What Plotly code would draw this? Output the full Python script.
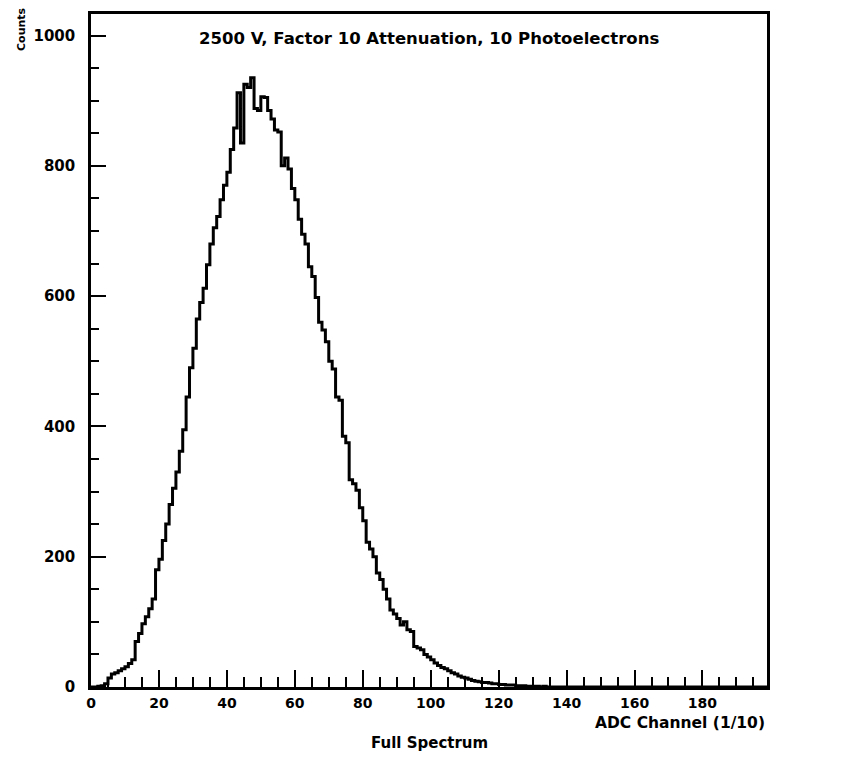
import plotly.graph_objects as go

# Histogram: 200 bins of width 1 (ADC channel / 10), counts
bin_edges_low = list(range(0, 200))
counts = [
    0, 0, 1, 2, 5, 14, 20, 22, 25, 28,
    31, 36, 42, 70, 82, 97, 108, 120, 135, 180,
    196, 225, 250, 280, 305, 330, 362, 395, 445, 490,
    520, 565, 590, 612, 648, 680, 705, 722, 748, 770,
    790, 825, 858, 912, 835, 925, 920, 935, 888, 885,
    906, 905, 885, 872, 855, 852, 800, 812, 795, 765,
    748, 718, 695, 680, 645, 630, 598, 560, 548, 530,
    500, 488, 445, 440, 385, 375, 318, 312, 302, 275,
    255, 222, 212, 200, 175, 165, 150, 135, 118, 112,
    105, 95, 100, 88, 85, 62, 60, 57, 50, 46,
    42, 37, 33, 30, 28, 25, 22, 20, 17, 15,
    14, 12, 10, 9, 8, 7, 7, 6, 5, 5,
    4, 4, 3, 3, 3, 2, 2, 2, 1, 1,
    1, 1, 0, 1, 0, 0, 0, 0, 0, 0,
] + [0] * 60

x_ticks = [0, 20, 40, 60, 80, 100, 120, 140, 160, 180]
y_ticks = [0, 200, 400, 600, 800, 1000]

title_text = "2500 V, Factor 10 Attenuation, 10 Photoelectrons"
x_title = "ADC Channel (1/10)"
sub_title = "Full Spectrum"
y_title = "Counts"

FONT = "DejaVu Sans"

xs = bin_edges_low + [bin_edges_low[-1] + 1]
ys = counts + [counts[-1]]

fig = go.Figure()
fig.add_trace(go.Scatter(
    x=xs, y=ys, mode="lines",
    line=dict(color="black", width=3, shape="hv"),
    hoverinfo="skip", showlegend=False,
))

axis_common = dict(
    showgrid=False, zeroline=False,
    showline=True, linecolor="black", linewidth=2.5, mirror=True,
    ticks="inside", tickcolor="black", tickwidth=2,
)

fig.update_xaxes(
    range=[0, 199], tickvals=x_ticks, ticklen=17,
    minor=dict(dtick=5, tick0=0, ticks="inside", ticklen=10, tickwidth=2, tickcolor="black"),
    ticklabelstandoff=1,
    tickfont=dict(family=FONT, size=14, color="black", weight="bold"),
    **axis_common,
)
fig.update_yaxes(
    range=[0, 1033], tickvals=y_ticks, ticklen=15,
    minor=dict(dtick=50, tick0=0, ticks="inside", ticklen=8, tickwidth=2, tickcolor="black"),
    ticklabelstandoff=10,
    tickfont=dict(family=FONT, size=15, color="black", weight="bold"),
    **axis_common,
)

fig.update_layout(
    width=843, height=770,
    margin=dict(l=91, r=76, t=11, b=83),
    paper_bgcolor="white", plot_bgcolor="white",
    font=dict(family=FONT, color="black"),
    annotations=[
        dict(text=title_text, xref="paper", yref="paper", x=0.5, y=1, yshift=-24,
             xanchor="center", yanchor="middle", showarrow=False,
             font=dict(family=FONT, size=16.5, weight="bold", color="black")),
        dict(text=x_title, xref="paper", yref="paper", x=1, y=0, yshift=-36,
             xanchor="right", yanchor="middle", showarrow=False,
             font=dict(family=FONT, size=15.5, weight="bold", color="black")),
        dict(text=sub_title, xref="paper", yref="paper", x=0.5, y=0, yshift=-56,
             xanchor="center", yanchor="middle", showarrow=False,
             font=dict(family=FONT, size=15, weight="bold", color="black")),
        dict(text=y_title, xref="paper", yref="paper", x=0, xshift=-70, y=1, yshift=9,
             xanchor="center", yanchor="top", textangle=-90, showarrow=False,
             font=dict(family=FONT, size=11, weight="bold", color="black")),
    ],
)

fig.write_html("out.html")
